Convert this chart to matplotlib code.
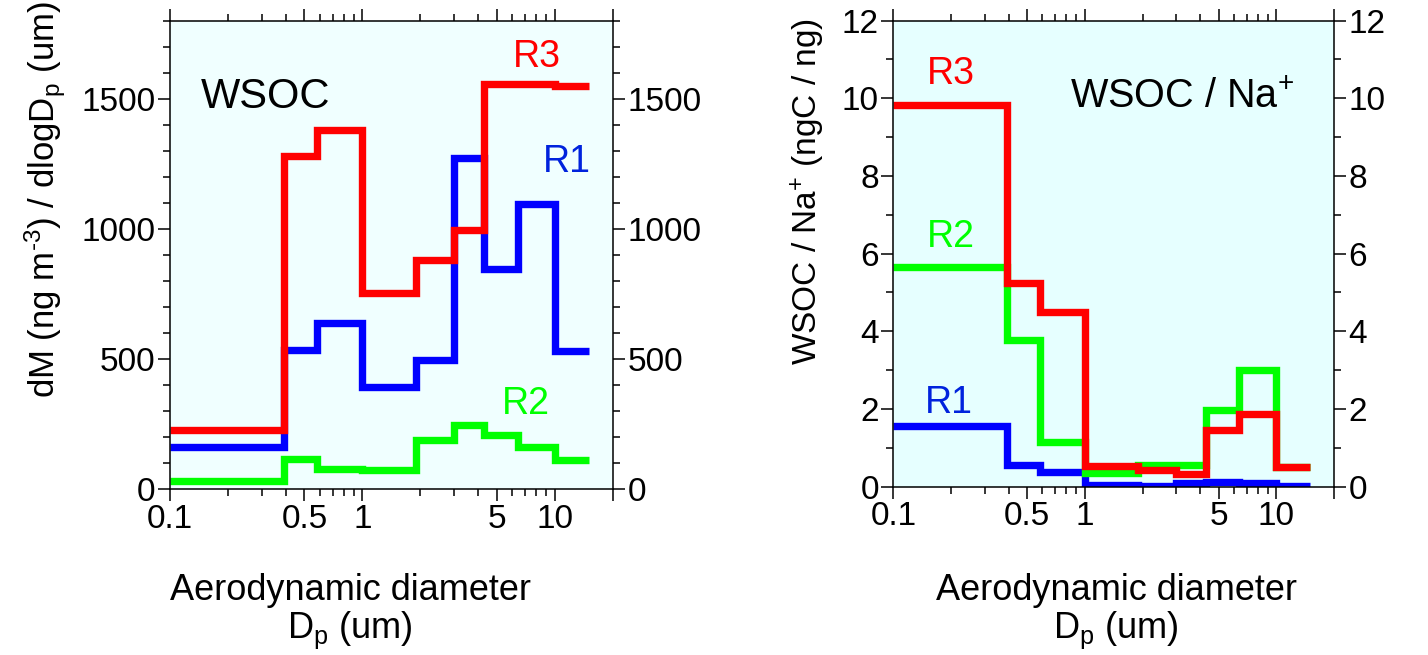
import numpy as np
import matplotlib
matplotlib.use("Agg")
import matplotlib.pyplot as plt
from matplotlib.ticker import FixedLocator, FixedFormatter, NullFormatter

plt.rcParams['font.family'] = ['Liberation Sans', 'DejaVu Sans']
plt.rcParams['mathtext.fontset'] = 'custom'
plt.rcParams['mathtext.rm'] = 'Liberation Sans'
plt.rcParams['mathtext.it'] = 'Liberation Sans'

# impactor stage cut sizes (um)
edges = [0.1, 0.39, 0.58, 1.0, 1.9, 3.0, 4.3, 6.4, 10.0, 15.0]

# WSOC mass size distribution, dM/dlogDp (ng m-3)
wsoc_r1 = [160, 534, 638, 392, 496, 1273, 844, 1097, 532]
wsoc_r2 = [32, 115, 78, 73, 187, 245, 208, 161, 110]
wsoc_r3 = [227, 1280, 1381, 755, 879, 995, 1558, 1558, 1548]

# WSOC / Na+ ratio (ngC / ng)
ratio_r1 = [1.55, 0.56, 0.39, 0.03, 0.02, 0.09, 0.12, 0.09, 0.01]
ratio_r2 = [5.65, 3.78, 1.16, 0.34, 0.56, 0.55, 1.97, 3.01, 0.50]
ratio_r3 = [9.82, 5.24, 4.51, 0.52, 0.43, 0.33, 1.47, 1.88, 0.51]

x_major = [0.1, 0.5, 1, 5, 10, 20]
x_major_labels = ['0.1', '0.5', '1', '5', '10', '']
x_minor = [0.2, 0.3, 0.4, 0.6, 0.7, 0.8, 0.9, 2, 3, 4, 6, 7, 8, 9]

RED, GREEN, BLUE = '#ff0000', '#00ff00', '#0000ff'
LW = 5.3


def draw_steps(ax, vals, color):
    ax.step(edges, list(vals) + [vals[-1]], where='post', color=color,
            lw=LW, solid_capstyle='butt', solid_joinstyle='miter')


def style_axes(ax, ymax, ymajor, yminor, bg):
    ax.set_facecolor(bg)
    ax.set_xscale('log')
    ax.set_xlim(0.1, 20)
    ax.set_ylim(0, ymax)
    ax.xaxis.set_major_locator(FixedLocator(x_major))
    ax.xaxis.set_major_formatter(FixedFormatter(x_major_labels))
    ax.xaxis.set_minor_locator(FixedLocator(x_minor))
    ax.xaxis.set_minor_formatter(NullFormatter())
    ax.yaxis.set_major_locator(FixedLocator(np.arange(0, ymax + 1e-9, ymajor)))
    ax.yaxis.set_minor_locator(FixedLocator(np.arange(0, ymax + 1e-9, yminor)))
    ax.tick_params(which='both', direction='out', top=True, right=True,
                   labelright=True, width=1.1, labelsize=24, pad=2)
    ax.tick_params(which='major', length=8.5)
    ax.tick_params(which='minor', length=5)
    for sp in ax.spines.values():
        sp.set_linewidth(1.1)


fig = plt.figure(figsize=(14.28, 6.55), dpi=100)
ax1 = fig.add_axes([0.1190, 0.2534, 0.3102, 0.7150])
ax2 = fig.add_axes([0.6256, 0.2570, 0.3086, 0.7115])

# left panel: WSOC concentrations
style_axes(ax1, 1800, 500, 100, '#f0ffff')
draw_steps(ax1, wsoc_r2, GREEN)
draw_steps(ax1, wsoc_r1, BLUE)
draw_steps(ax1, wsoc_r3, RED)
ax1.text(0.217, 0.837, 'WSOC', transform=ax1.transAxes, fontsize=30,
         ha='center', va='center')
ax1.text(0.828, 0.923, 'R3', transform=ax1.transAxes, fontsize=27,
         color=RED, ha='center', va='center')
ax1.text(0.896, 0.698, 'R1', transform=ax1.transAxes, fontsize=27,
         color='#0022dd', ha='center', va='center')
ax1.text(0.804, 0.182, 'R2', transform=ax1.transAxes, fontsize=27,
         color=GREEN, ha='center', va='center')

# right panel: WSOC / Na+ ratio
style_axes(ax2, 12, 2, 1, '#e6ffff')
draw_steps(ax2, ratio_r1, BLUE)
draw_steps(ax2, ratio_r2, GREEN)
draw_steps(ax2, ratio_r3, RED)
ax2.text(0.655, 0.836, 'WSOC / Na$^{+}$', transform=ax2.transAxes,
         fontsize=28.5, ha='center', va='center')
ax2.text(0.131, 0.886, 'R3', transform=ax2.transAxes, fontsize=27,
         color=RED, ha='center', va='center')
ax2.text(0.131, 0.536, 'R2', transform=ax2.transAxes, fontsize=27,
         color=GREEN, ha='center', va='center')
ax2.text(0.127, 0.180, 'R1', transform=ax2.transAxes, fontsize=27,
         color='#0022dd', ha='center', va='center')

# axis titles
fig.text(45 / 1428, 1 - 200 / 655,
         'dM (ng m$^{\\text{-}3}$) / dlogD$_\\mathrm{p}$ (um)',
         rotation=90, ha='center', va='center', fontsize=25)
fig.text(808 / 1428, 1 - 192 / 655, 'WSOC / Na$^{+}$ (ngC / ng)',
         rotation=90, ha='center', va='center', fontsize=24)
for xc in (350, 1116):
    fig.text(xc / 1428, 1 - 590 / 655, 'Aerodynamic diameter',
             ha='center', va='center', fontsize=26)
    fig.text(xc / 1428, 1 - 630 / 655, 'D$_\\mathrm{p}$ (um)',
             ha='center', va='center', fontsize=26)

fig.savefig('out.png', dpi=100)
